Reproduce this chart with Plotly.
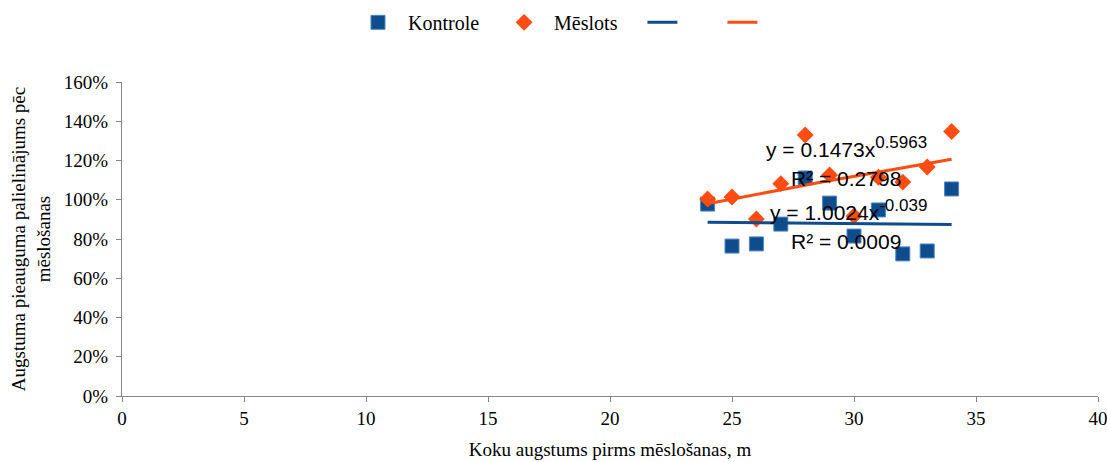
import numpy as np
import plotly.graph_objects as go

heights = [24, 25, 26, 27, 28, 29, 30, 31, 32, 33, 34]
kontrole = [0.978, 0.764, 0.775, 0.876, 1.111, 0.983, 0.815, 0.948, 0.724, 0.739, 1.055]
meslots = [1.004, 1.014, 0.902, 1.082, 1.330, 1.126, 0.917, 1.115, 1.090, 1.167, 1.348]

# Power trendlines as printed on the chart: y = a * x^b
trend_k = (1.0024, -0.039)
trend_m = (0.1473, 0.5963)

xt = np.linspace(min(heights), max(heights), 60)
yk = trend_k[0] * xt ** trend_k[1]
ym = trend_m[0] * xt ** trend_m[1]

BLUE = "#0E4C8B"
ORANGE = "#FF4D12"
NB = "\u00a0"

fig = go.Figure()
fig.add_trace(go.Scatter(x=heights, y=kontrole, mode="markers", name=NB * 2 + "Kontrole" + NB * 4,
                         marker=dict(symbol="square", size=14, color=BLUE,
                                     line=dict(color="#4A86C8", width=1))))
fig.add_trace(go.Scatter(x=heights, y=meslots, mode="markers", name=NB * 2 + "Mēslots" + NB * 4,
                         marker=dict(symbol="diamond", size=13, color=ORANGE,
                                     line=dict(width=0))))
fig.add_trace(go.Scatter(x=xt, y=yk, mode="lines", name=NB * 7,
                         line=dict(color=BLUE, width=3)))
fig.add_trace(go.Scatter(x=xt, y=ym, mode="lines", name=NB,
                         line=dict(color=ORANGE, width=3)))

ann_font = dict(family="Liberation Sans, Arial, sans-serif", size=21, color="#000000")
SUP = "<sup><span style='font-size:17px'>{}</span></sup>"
annotations = [
    dict(x=846, y=147, text="y = 0.1473x" + SUP.format("0.5963")),
    dict(x=846, y=178, text="R² = 0.2798"),
    dict(x=848, y=210, text="y = 1.0024x" + SUP.format("-0.039")),
    dict(x=846, y=241, text="R² = 0.0009"),
]
fig.update_layout(annotations=[
    dict(xref="paper", yref="paper",
         x=(a["x"] - 122) / 976, y=(396 - a["y"]) / 314,
         text=a["text"], showarrow=False, font=ann_font,
         xanchor="center", yanchor="middle") for a in annotations
])

tick_font = dict(family="Liberation Serif, Times New Roman, serif", size=19, color="#000000")
legend_font = dict(family="Liberation Serif, Times New Roman, serif", size=20, color="#000000")

fig.update_layout(
    width=1107, height=462,
    margin=dict(l=122, r=9, t=82, b=66, autoexpand=False),
    paper_bgcolor="white", plot_bgcolor="white",
    font=tick_font,
    showlegend=True,
    legend=dict(orientation="h", x=0.2418, xanchor="left", y=1.19, yanchor="middle",
                font=legend_font, bgcolor="rgba(0,0,0,0)", itemwidth=30),
    xaxis=dict(range=[0, 40], tickvals=list(range(0, 41, 5)), showgrid=False, zeroline=False,
               showline=True, linecolor="#868686", linewidth=1,
               ticks="outside", ticklen=5, tickcolor="#868686",
               tickfont=tick_font, ticklabeloverflow="allow",
               title=dict(text="Koku augstums pirms mēslošanas, m", font=tick_font, standoff=14)),
    yaxis=dict(range=[0, 1.6], tickvals=[i / 10 for i in range(0, 17, 2)], tickformat=".0%",
               showgrid=False, zeroline=False,
               showline=True, linecolor="#868686", linewidth=1,
               ticks="outside", ticklen=5, tickcolor="#868686",
               tickfont=tick_font, ticklabelstandoff=4, ticklabeloverflow="allow",
               title=dict(text="Augstuma pieauguma palielinājums pēc<br>mēslošanas", font=tick_font, standoff=8)),
)

fig.write_html("out.html")
